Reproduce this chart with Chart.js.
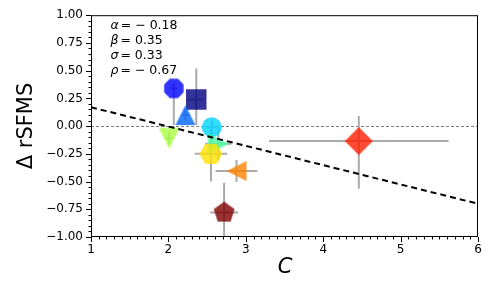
<!DOCTYPE html>
<html>
<head>
<meta charset="utf-8">
<script src="https://cdn.jsdelivr.net/npm/chart.js@4/dist/chart.umd.min.js"></script>
<style>
html, body { margin: 0; padding: 0; background: #fff; }
</style>
</head>
<body>
<canvas id="chart" width="504" height="288"></canvas>
<script>
// ===== DATA =====
const cValues   = [2.36, 2.07, 2.22, 2.56, 2.645, 2.01, 2.55, 2.88, 4.46, 2.72];
const dValues   = [0.24, 0.34, 0.10, -0.01, -0.16, -0.11, -0.25, -0.405, -0.135, -0.78];
const cErr      = [0.10, 0.05, 0.05, 0.06, 0.17, 0.05, 0.21, 0.27, 1.16, 0.18];
const dErrLow   = [0.23, 0.33, 0.05, 0.06, 0.15, 0.05, 0.25, 0.10, 0.43, 0.27];
const dErrHigh  = [0.28, 0.05, 0.05, 0.06, 0.15, 0.05, 0.25, 0.10, 0.225, 0.27];
const fitX = [1, 6];
const fitY = [0.17, -0.70];
const xTickVals = [1, 2, 3, 4, 5, 6];
const xTickLabels = ["1", "2", "3", "4", "5", "6"];
const yTickVals = [-1, -0.75, -0.5, -0.25, 0, 0.25, 0.5, 0.75, 1];
const yTickLabels = ["\u22121.00", "\u22120.75", "\u22120.50", "\u22120.25", "0.00", "0.25", "0.50", "0.75", "1.00"];
const statNames = ["\u03b1", "\u03b2", "\u03c3", "\u03c1"];
const statValues = ["= \u2212 0.18", "= 0.35", "= 0.33", "= \u2212 0.67"];

// ===== MARKERS =====
const colors = [
    "rgba(0,0,128,0.8)", "rgba(0,0,255,0.8)", "rgba(0,100,255,0.8)", "rgba(0,212,255,0.8)",
    "rgba(70,255,160,0.8)", "rgba(170,255,70,0.8)", "rgba(255,225,0,0.8)", "rgba(255,130,0,0.8)",
    "rgba(255,30,0,0.8)", "rgba(128,0,0,0.8)"
];

function ngon(n, startDeg) {
    const pts = [];
    for (let k = 0; k < n; k++) {
        const a = (startDeg + k * 360 / n) * Math.PI / 180;
        pts.push([Math.cos(a), Math.sin(a)]);
    }
    return pts;
}

// unit shapes, y up
function markerImg(pts, half, color) {
    const size = Math.ceil(half) * 2 + 4;
    const c = document.createElement("canvas");
    c.width = size; c.height = size;
    const g = c.getContext("2d");
    g.translate(size / 2, size / 2);
    g.beginPath();
    pts.forEach((p, i) => {
        const px = p[0] * half, py = -p[1] * half;
        if (i === 0) g.moveTo(px, py); else g.lineTo(px, py);
    });
    g.closePath();
    g.fillStyle = color;
    g.fill();
    return c;
}

const styles = [
    "rect",
    markerImg(ngon(8, 22.5), 10.5, colors[1]),
    markerImg([[0, 1], [-1, -1], [1, -1]], 10, colors[2]),
    "circle",
    markerImg([[1, 0], [-1, 1], [-1, -1]], 10.5, colors[4]),
    markerImg([[0, -1], [-1, 1], [1, 1]], 10.5, colors[5]),
    markerImg(ngon(6, 0), 11.5, colors[6]),
    markerImg([[-1, 0], [1, 1], [1, -1]], 10, colors[7]),
    markerImg([[0, 1], [1, 0], [0, -1], [-1, 0]], 14, colors[8]),
    markerImg(ngon(5, 90), 11, colors[9])
];
const radii = [14.5, 10, 10, 10, 10, 10, 10, 10, 10, 10];

// ===== EXTRA DRAWING =====
const FONT = "DejaVu Sans";

const extras = {
    id: "extras",
    beforeDatasetsDraw(chart) {
        const { ctx, chartArea: a, scales: { x, y } } = chart;
        ctx.save();
        ctx.beginPath();
        ctx.rect(a.left, a.top, a.right - a.left, a.bottom - a.top);
        ctx.clip();

        // zero line
        const y0 = Math.round(y.getPixelForValue(0)) + 0.5;
        ctx.strokeStyle = "#808080";
        ctx.lineWidth = 1;
        ctx.setLineDash([3, 2]);
        ctx.beginPath();
        ctx.moveTo(a.left, y0);
        ctx.lineTo(a.right, y0);
        ctx.stroke();

        // error bars
        ctx.setLineDash([]);
        ctx.strokeStyle = "#aaaaaa";
        ctx.lineWidth = 2;
        cValues.forEach((cv, i) => {
            const px = x.getPixelForValue(cv);
            const py = y.getPixelForValue(dValues[i]);
            ctx.beginPath();
            ctx.moveTo(x.getPixelForValue(cv - cErr[i]), py);
            ctx.lineTo(x.getPixelForValue(cv + cErr[i]), py);
            ctx.moveTo(px, y.getPixelForValue(dValues[i] - dErrLow[i]));
            ctx.lineTo(px, y.getPixelForValue(dValues[i] + dErrHigh[i]));
            ctx.stroke();
        });
        ctx.restore();
    },
    afterDatasetsDraw(chart) {
        const { ctx, chartArea: a, scales: { x, y } } = chart;
        ctx.save();
        ctx.beginPath();
        ctx.rect(a.left, a.top, a.right - a.left, a.bottom - a.top);
        ctx.clip();
        ctx.strokeStyle = "#000";
        ctx.lineWidth = 2;
        ctx.setLineDash([6, 4]);
        ctx.beginPath();
        ctx.moveTo(x.getPixelForValue(fitX[0]), y.getPixelForValue(fitY[0]));
        ctx.lineTo(x.getPixelForValue(fitX[1]), y.getPixelForValue(fitY[1]));
        ctx.stroke();
        ctx.restore();
    },
    afterDraw(chart) {
        const { ctx, chartArea: a, scales: { x, y } } = chart;
        ctx.save();
        ctx.strokeStyle = "#000";
        ctx.lineWidth = 1;

        // frame
        ctx.strokeRect(a.left + 0.5, a.top + 0.5, a.right - a.left - 1, a.bottom - a.top - 1);

        // ticks
        ctx.beginPath();
        for (let v = 1; v <= 6.001; v += 0.1) {
            const px = Math.round(x.getPixelForValue(v)) + 0.5;
            const major = Math.abs(v - Math.round(v)) < 0.01;
            ctx.moveTo(px, a.bottom);
            ctx.lineTo(px, a.bottom + (major ? 5 : 2.5));
        }
        for (let v = -1; v <= 1.001; v += 0.05) {
            const py = Math.round(y.getPixelForValue(v)) + 0.5;
            const major = Math.abs(v * 4 - Math.round(v * 4)) < 0.01;
            ctx.moveTo(a.left, py);
            ctx.lineTo(a.left - (major ? 5 : 2.5), py);
        }
        ctx.stroke();

        // axis titles
        ctx.fillStyle = "#000";
        ctx.textAlign = "center";
        ctx.textBaseline = "middle";
        ctx.font = "italic 21px " + FONT;
        ctx.fillText("C", 285, 268);
        ctx.translate(27, 126);
        ctx.rotate(-Math.PI / 2);
        ctx.font = "21px " + FONT;
        ctx.fillText("\u0394 rSFMS", 0, 0);
        ctx.setTransform(1, 0, 0, 1, 0, 0);

        // stats text
        ctx.textAlign = "left";
        ctx.textBaseline = "alphabetic";
        const baselines = [28.5, 44, 59, 73.5];
        statNames.forEach((nm, i) => {
            ctx.font = "italic 12.5px " + FONT;
            ctx.fillText(nm, 110.5, baselines[i]);
            const w = ctx.measureText(nm).width;
            ctx.font = "12.5px " + FONT;
            ctx.fillText(statValues[i], 110.5 + w + 2, baselines[i]);
        });
        ctx.restore();
    }
};

// ===== CHART =====
new Chart(document.getElementById("chart"), {
    type: "scatter",
    data: {
        datasets: [{
            data: cValues.map((c, i) => ({ x: c, y: dValues[i] })),
            pointStyle: styles,
            pointRadius: radii,
            pointHoverRadius: radii,
            pointBackgroundColor: colors,
            pointBorderWidth: 0,
            pointBorderColor: "rgba(0,0,0,0)"
        }]
    },
    options: {
        responsive: false,
        animation: false,
        layout: { padding: { left: 0, right: 26, top: 15, bottom: 0 } },
        plugins: {
            legend: { display: false },
            tooltip: { enabled: false }
        },
        scales: {
            x: {
                type: "linear",
                min: 1,
                max: 6,
                grid: { display: false, drawTicks: false },
                border: { display: false },
                afterBuildTicks: s => { s.ticks = xTickVals.map(v => ({ value: v })); },
                afterFit: s => { s.height = 51; },
                ticks: {
                    padding: 6,
                    color: "#000",
                    font: { family: FONT, size: 12 },
                    maxRotation: 0,
                    callback: (v) => xTickLabels[xTickVals.indexOf(v)]
                }
            },
            y: {
                type: "linear",
                min: -1,
                max: 1,
                grid: { display: false, drawTicks: false },
                border: { display: false },
                afterBuildTicks: s => { s.ticks = yTickVals.map(v => ({ value: v })); },
                afterFit: s => { s.width = 91; },
                ticks: {
                    padding: 8,
                    color: "#000",
                    font: { family: FONT, size: 12 },
                    callback: (v) => yTickLabels[yTickVals.indexOf(v)]
                }
            }
        }
    },
    plugins: [extras]
});
</script>
</body>
</html>
